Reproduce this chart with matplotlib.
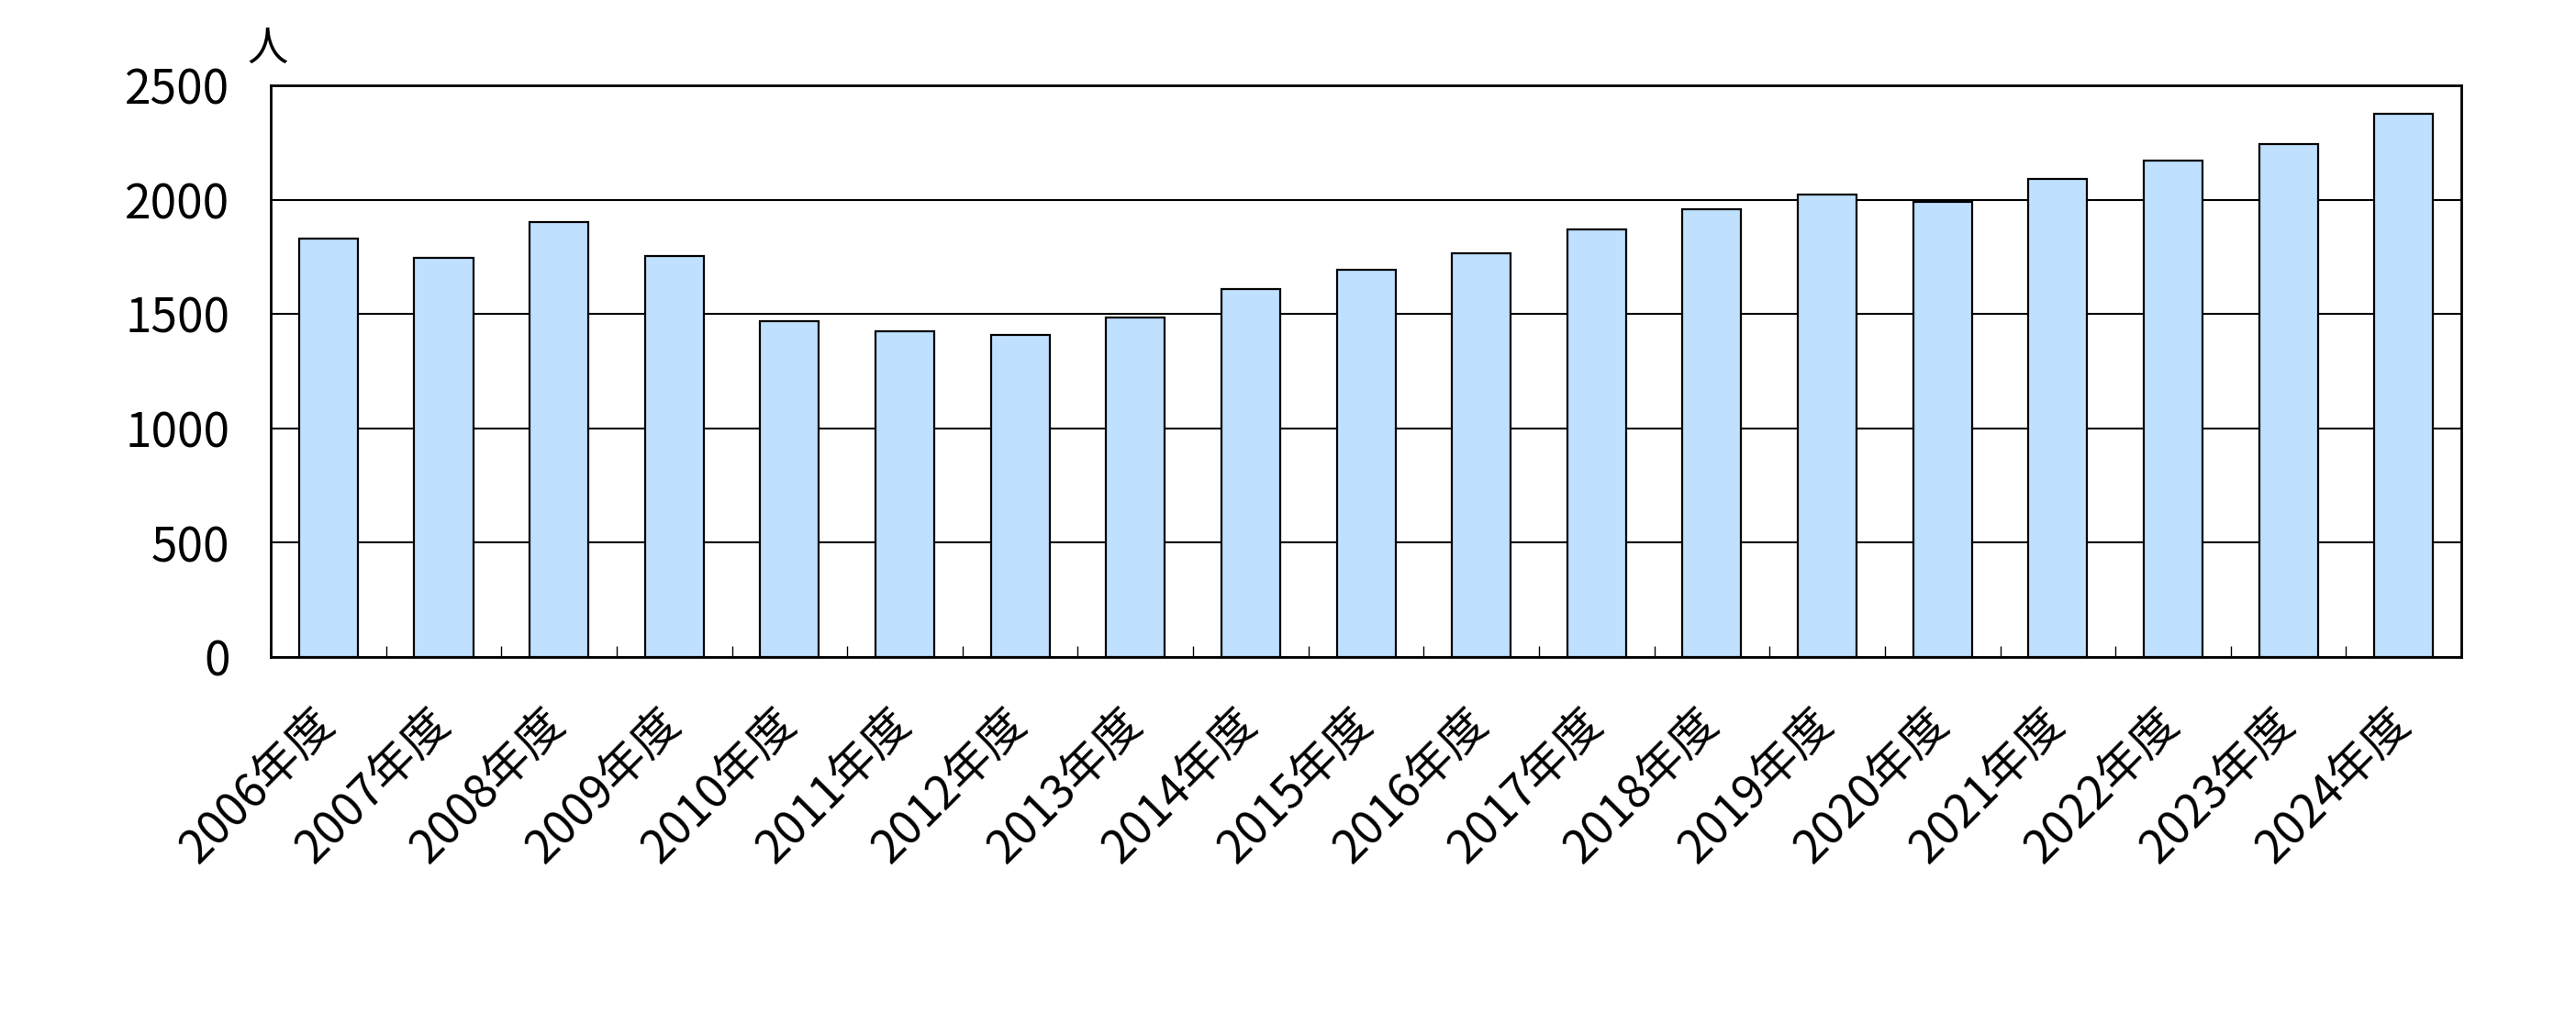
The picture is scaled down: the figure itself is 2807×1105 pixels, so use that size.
import numpy as np
import matplotlib
matplotlib.use('Agg')
import matplotlib.pyplot as plt

plt.rcParams['font.family'] = ['Noto Sans CJK JP', 'DejaVu Sans']

# 年度別の人数
years = ['2006年度', '2007年度', '2008年度', '2009年度', '2010年度', '2011年度',
         '2012年度', '2013年度', '2014年度', '2015年度', '2016年度', '2017年度',
         '2018年度', '2019年度', '2020年度', '2021年度', '2022年度', '2023年度',
         '2024年度']
people = [1832, 1745, 1903, 1753, 1470, 1426, 1408, 1485, 1608, 1694,
          1767, 1869, 1959, 2021, 1992, 2089, 2172, 2244, 2376]
yticks = [0, 500, 1000, 1500, 2000, 2500]

fig = plt.figure(figsize=(28.07, 11.05), dpi=100)
ax = fig.add_axes([0.1051, 0.352, 0.8504, 0.5638])

x = np.arange(len(years))
ax.bar(x, people, width=0.51, color='#C0E0FF', edgecolor='black', linewidth=1.6, zorder=3)

ax.set_xlim(-0.5, len(years) - 0.5)
ax.set_ylim(0, 2500)
ax.set_yticks(yticks)
ax.set_yticklabels([str(v) for v in yticks], fontsize=37)
ax.yaxis.grid(True, color='black', linewidth=1.5)
ax.set_axisbelow(True)
ax.tick_params(axis='y', length=0, pad=32)

ax.set_xticks(x)
ax.set_xticklabels(years, fontsize=36.5, rotation=45, ha='right', va='center',
                   rotation_mode='anchor')
ax.tick_params(axis='x', which='major', length=0, pad=47)
ax.set_xticks(np.arange(-0.5, len(years), 1), minor=True)
ax.tick_params(axis='x', which='minor', direction='in', length=9, width=1)

for s in ax.spines.values():
    s.set_linewidth(2)

# 単位
fig.text(292 / 2807, 1 - 54 / 1105, '人', fontsize=32, ha='center', va='center')

fig.savefig('out.png', dpi=100)
